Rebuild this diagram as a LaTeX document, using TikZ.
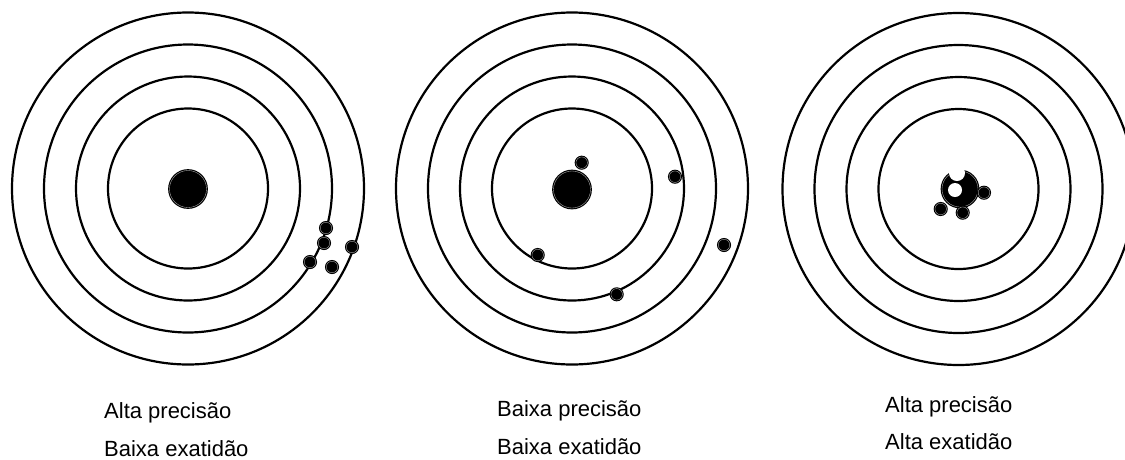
\documentclass[tikz,border=0pt]{standalone}
\usepackage{fontspec}
\setmainfont{Liberation Sans}
\begin{document}
\begin{tikzpicture}[x=1pt,y=-1pt,
  ring/.style={line width=2.2pt, draw=black},
  shot/.style={circle, fill=black, draw=black, double=gray!60, double distance=0.35pt, line width=1.1pt, minimum size=11.5pt, inner sep=0pt},
  bull/.style={circle, fill=black, draw=black, double=gray!60, double distance=0.35pt, line width=1.2pt, minimum size=37pt, inner sep=0pt},
  hole/.style={circle, fill=white, inner sep=0pt},
  lbl/.style={anchor=base west, inner sep=0pt, font=\fontsize{22}{26}\selectfont}]
\useasboundingbox (0,0) rectangle (1125,459);
\clip (0,0) rectangle (1125,459);
% centres
\coordinate (t1) at (188,188.5);
\coordinate (t2) at (572,188.5);
\coordinate (t3) at (958.5,189);
% rings
\foreach \t in {t1,t2,t3}{
  \foreach \r in {176,144,112,80}{
    \draw[ring] (\t) circle[radius=\r];
  }
}
% target 1
\node[bull] (b1) at (188,189) {};
\node[shot] (s11) at (326,228) {};
\node[shot] (s12) at (324,243) {};
\node[shot] (s13) at (310,262) {};
\node[shot] (s14) at (332,267) {};
\node[shot] (s15) at (352,247) {};
% target 2
\node[bull] (b2) at (572,189.5) {};
\node[shot] (s21) at (581.7,162.7) {};
\node[shot] (s22) at (675,176.7) {};
\node[shot] (s23) at (724,245) {};
\node[shot] (s24) at (537.7,255) {};
\node[shot] (s25) at (616.7,294.3) {};
% target 3
\node[bull, minimum size=36pt] (b3) at (960,189) {};
\node[shot] (s31) at (984,192.7) {};
\node[shot] (s32) at (940.7,209) {};
\node[shot] (s33) at (962.7,212.7) {};
\node[hole, minimum size=16pt] (n3) at (957,173) {};
\node[hole, minimum size=14pt] (h3) at (955,190) {};
% labels
\node[lbl] (l11) at (104,418) {Alta precisão};
\node[lbl] (l12) at (104,456) {Baixa exatidão};
\node[lbl] (l21) at (497,416) {Baixa precisão};
\node[lbl] (l22) at (497,454) {Baixa exatidão};
\node[lbl] (l31) at (885,412) {Alta precisão};
\node[lbl] (l32) at (885,449) {Alta exatidão};
\end{tikzpicture}
\end{document}
